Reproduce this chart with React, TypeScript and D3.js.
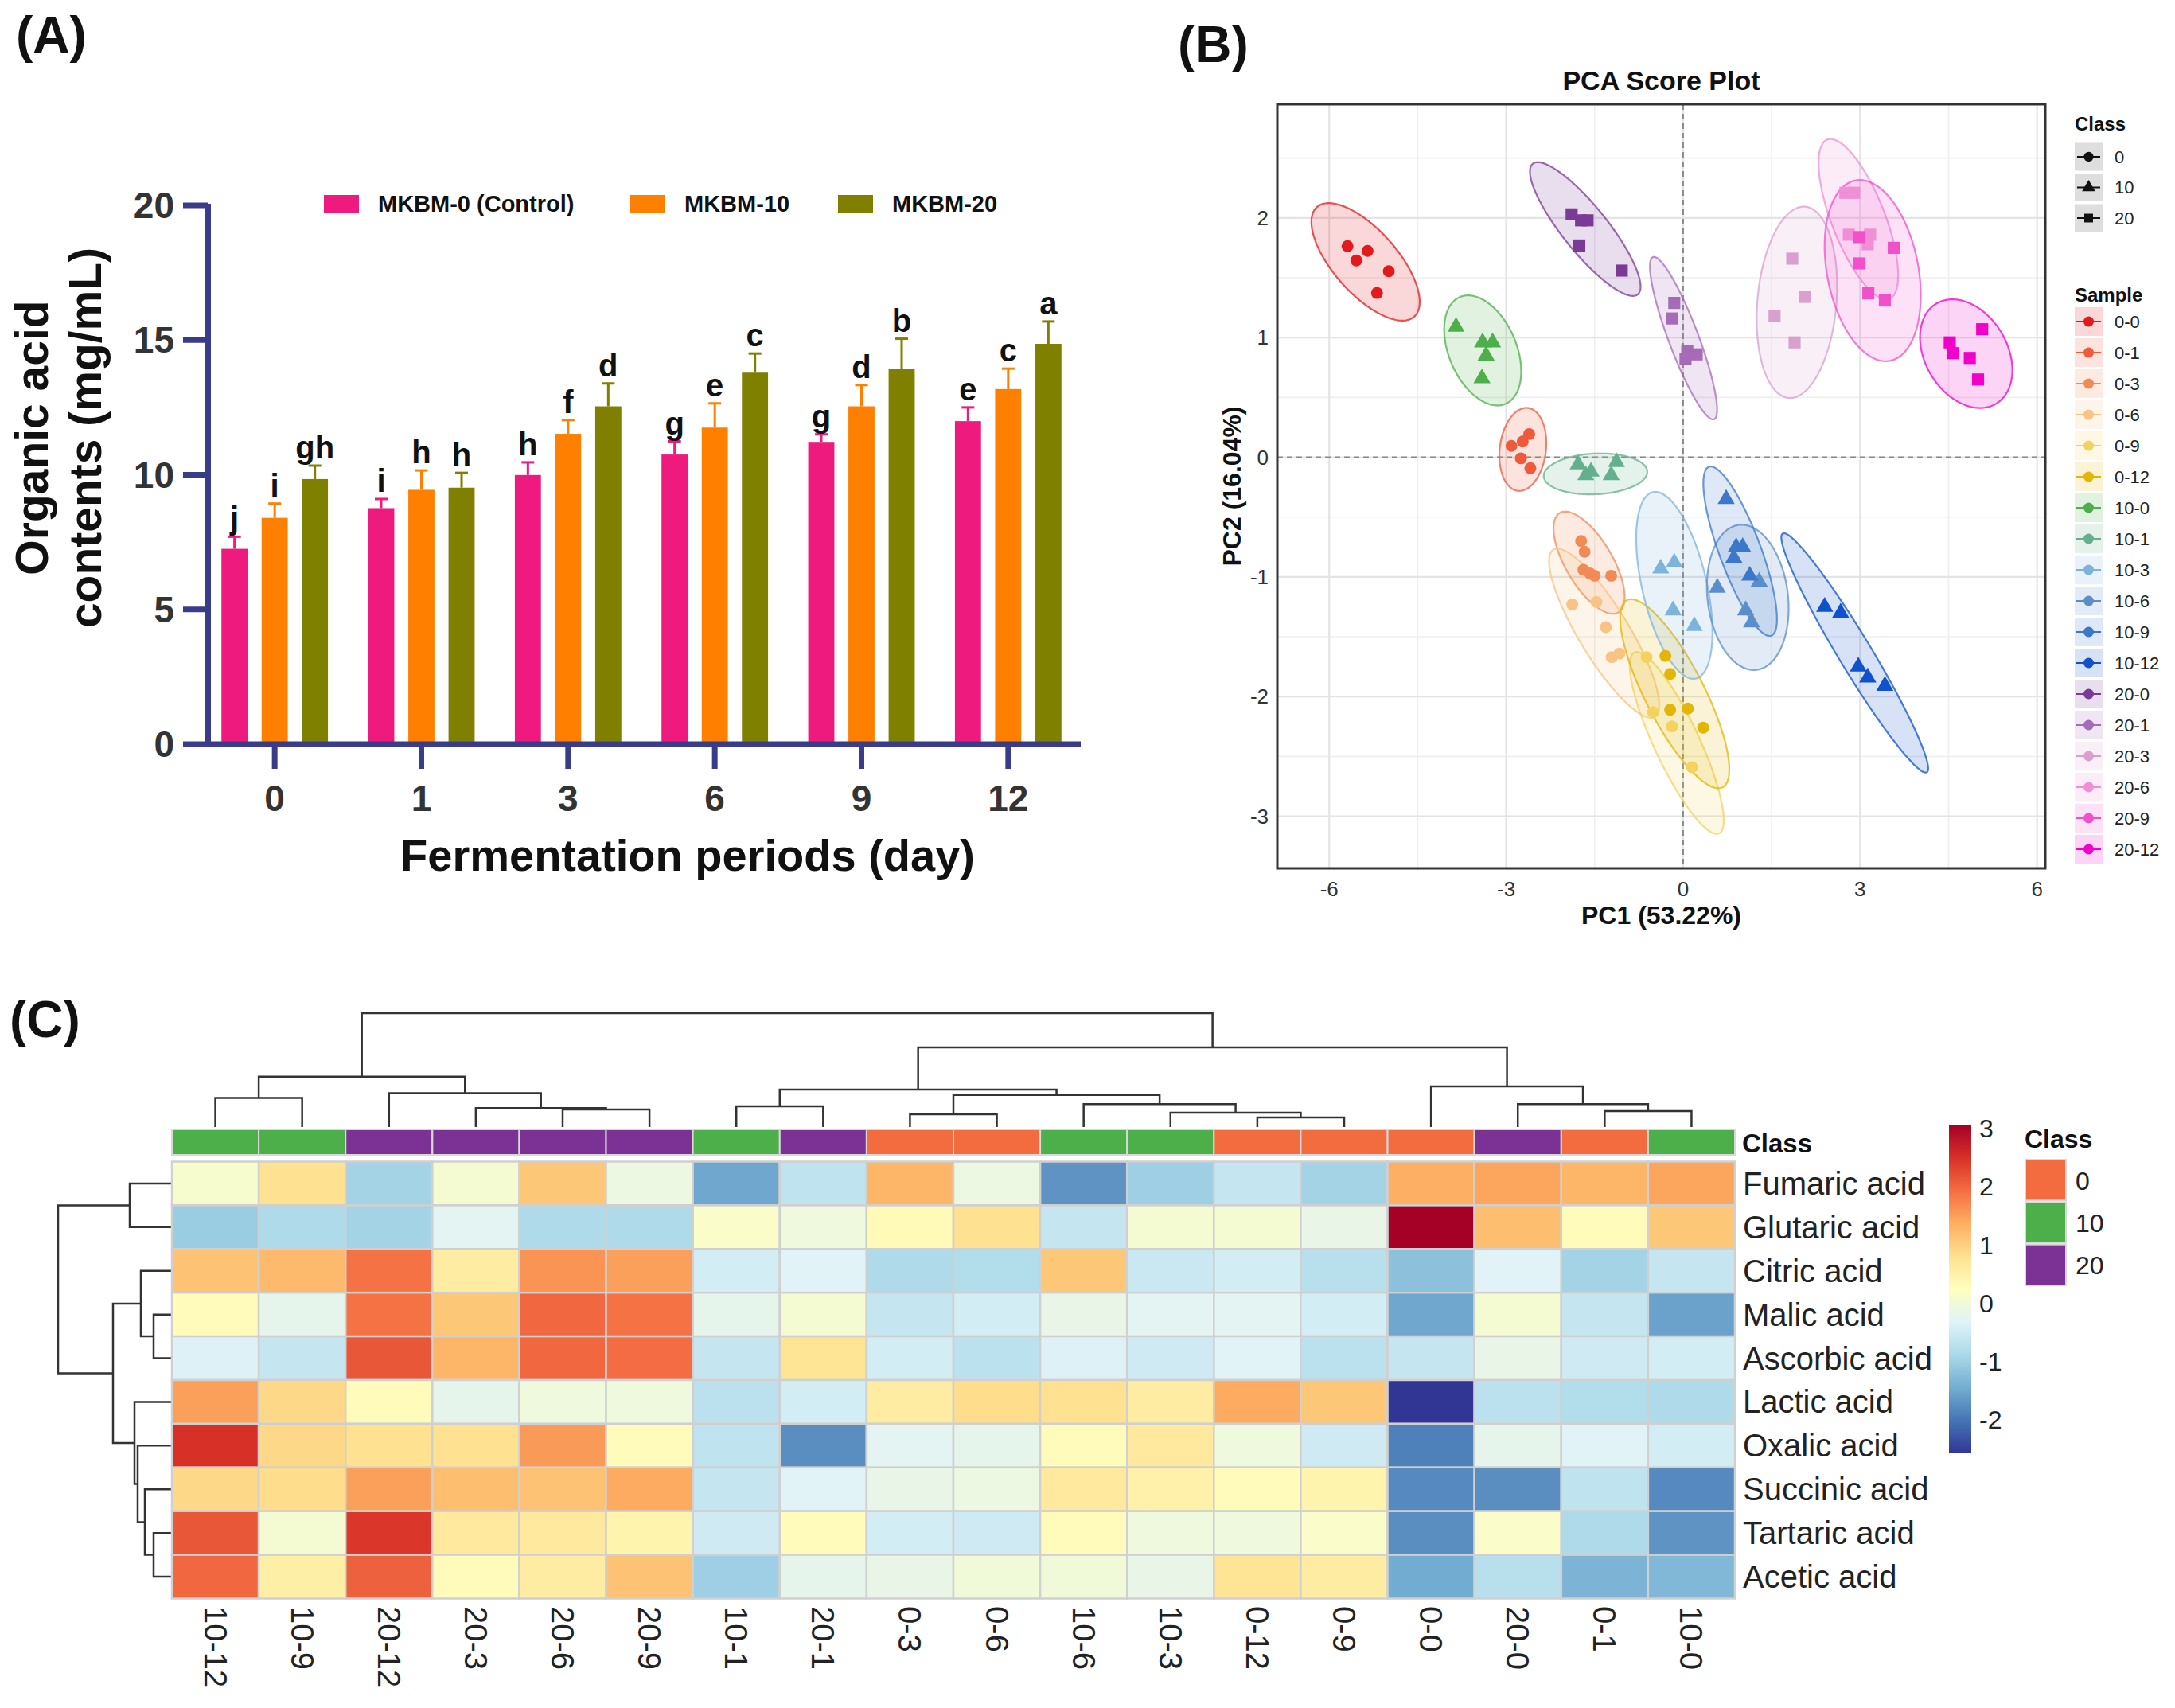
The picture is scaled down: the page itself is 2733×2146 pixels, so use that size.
import React from 'react';
import * as d3 from 'd3';

// ---------- Panel A: organic acid contents ----------
const days = ['0', '1', '3', '6', '9', '12'];
const seriesNames = ['MKBM-0 (Control)', 'MKBM-10', 'MKBM-20'];
const seriesColors = ['#EE1A7E', '#FF7F00', '#808000'];
const meanMKBM0 = [7.25, 8.76, 9.99, 10.75, 11.22, 11.99];
const meanMKBM10 = [8.4, 9.44, 11.52, 11.75, 12.54, 13.18];
const meanMKBM20 = [9.84, 9.52, 12.54, 13.79, 13.94, 14.86];
const sdMKBM0 = [0.45, 0.34, 0.47, 0.49, 0.28, 0.51];
const sdMKBM10 = [0.53, 0.72, 0.51, 0.9, 0.79, 0.76];
const sdMKBM20 = [0.5, 0.55, 0.85, 0.71, 1.11, 0.83];
const letterMKBM0 = ['j', 'i', 'h', 'g', 'g', 'e'];
const letterMKBM10 = ['i', 'h', 'f', 'e', 'd', 'c'];
const letterMKBM20 = ['gh', 'h', 'd', 'c', 'b', 'a'];
const yTicksA = [0, 5, 10, 15, 20];

// ---------- Panel B: PCA scores ----------
const pcaSamples = ['0-0', '0-1', '0-3', '0-6', '0-9', '0-12', '10-0', '10-1', '10-3', '10-6', '10-9', '10-12',
  '20-0', '20-1', '20-3', '20-6', '20-9', '20-12'];
const pcaColors = ['#E31A1C', '#EE5A3A', '#F28A55', '#FAC384', '#F3D35E', '#E3B505', '#4DAF4A', '#63AF8E',
  '#7DB4DB', '#5A8ECA', '#3B77CB', '#0F52CC', '#7B3A96', '#A56BB6', '#D9A0CF', '#F08FD6', '#F24FCB', '#F000C8'];
const pcaClasses = ['0', '10', '20'];
// [sample, PC1, PC2]
const pcaScores: [string, number, number][] = [
  ['0-0', -5.69, 1.765], ['0-0', -5.35, 1.724], ['0-0', -5.54, 1.645], ['0-0', -4.99, 1.555], ['0-0', -5.19, 1.373],
  ['0-1', -2.91, 0.095], ['0-1', -2.72, 0.132], ['0-1', -2.61, 0.194], ['0-1', -2.75, -0.009], ['0-1', -2.59, -0.091],
  ['0-3', -1.73, -0.7], ['0-3', -1.67, -0.79], ['0-3', -1.69, -0.94], ['0-3', -1.58, -0.97], ['0-3', -1.5, -0.99], ['0-3', -1.22, -0.99],
  ['0-6', -1.88, -1.23], ['0-6', -1.47, -1.21], ['0-6', -1.31, -1.42], ['0-6', -1.21, -1.67], ['0-6', -1.08, -1.64],
  ['0-9', -0.62, -1.67], ['0-9', -0.51, -2.13], ['0-9', -0.19, -2.25], ['0-9', 0.15, -2.59],
  ['0-12', -0.3, -1.66], ['0-12', -0.22, -1.81], ['0-12', -0.22, -2.11], ['0-12', 0.08, -2.1], ['0-12', 0.34, -2.26],
  ['10-0', -3.85, 1.09], ['10-0', -3.4, 0.96], ['10-0', -3.23, 0.96], ['10-0', -3.34, 0.85], ['10-0', -3.41, 0.66],
  ['10-1', -1.78, -0.06], ['10-1', -1.65, -0.15], ['10-1', -1.56, -0.12], ['10-1', -1.13, -0.04], ['10-1', -1.22, -0.15],
  ['10-3', -0.38, -0.93], ['10-3', -0.15, -0.88], ['10-3', -0.17, -1.28], ['10-3', 0.19, -1.41],
  ['10-6', 0.58, -1.09], ['10-6', 1.29, -1.04], ['10-6', 1.06, -1.28], ['10-6', 1.16, -1.38],
  ['10-9', 0.73, -0.35], ['10-9', 0.9, -0.75], ['10-9', 1.01, -0.75], ['10-9', 0.86, -0.84], ['10-9', 1.13, -0.99],
  ['10-12', 2.4, -1.25], ['10-12', 2.67, -1.3], ['10-12', 2.97, -1.75], ['10-12', 3.13, -1.84], ['10-12', 3.42, -1.91],
  ['20-0', -1.89, 2.03], ['20-0', -1.73, 1.98], ['20-0', -1.62, 1.98], ['20-0', -1.76, 1.77], ['20-0', -1.04, 1.56],
  ['20-1', -0.15, 1.29], ['20-1', -0.19, 1.16], ['20-1', 0.07, 0.89], ['20-1', 0.23, 0.86], ['20-1', 0.04, 0.82],
  ['20-3', 1.85, 1.66], ['20-3', 2.07, 1.34], ['20-3', 1.55, 1.18], ['20-3', 1.89, 0.96],
  ['20-6', 2.75, 2.21], ['20-6', 2.9, 2.21], ['20-6', 2.81, 1.86], ['20-6', 3.17, 1.86], ['20-6', 3.13, 1.78],
  ['20-9', 2.99, 1.84], ['20-9', 3.57, 1.75], ['20-9', 2.99, 1.62], ['20-9', 3.14, 1.37], ['20-9', 3.42, 1.31],
  ['20-12', 5.07, 1.07], ['20-12', 4.52, 0.96], ['20-12', 4.57, 0.87], ['20-12', 4.86, 0.83], ['20-12', 5.0, 0.65],
];
// confidence ellipses: [sample, centre PC1, centre PC2, half-range PC1, half-range PC2, correlation]
const pcaEllipses: [string, number, number, number, number, number][] = [
  ['0-0', -5.384, 1.633, 0.918, 0.491, -0.68],
  ['0-1', -2.717, 0.066, 0.398, 0.347, 0.15],
  ['0-3', -1.594, -0.881, 0.603, 0.427, -0.67],
  ['0-6', -1.339, -1.47, 0.934, 0.707, -0.85],
  ['0-9', -0.108, -2.387, 0.797, 0.76, -0.85],
  ['0-12', -0.142, -1.976, 0.925, 0.79, -0.8],
  ['10-0', -3.398, 0.893, 0.653, 0.46, -0.38],
  ['10-1', -1.485, -0.139, 0.878, 0.171, 0.1],
  ['10-3', -0.149, -1.07, 0.646, 0.781, -0.5],
  ['10-6', 1.096, -1.171, 0.693, 0.607, -0.15],
  ['10-9', 0.967, -0.785, 0.624, 0.708, -0.8],
  ['10-12', 2.91, -1.635, 1.245, 1.0, -0.965],
  ['20-0', -1.659, 1.907, 0.938, 0.559, -0.86],
  ['20-1', 0.007, 0.995, 0.569, 0.679, -0.88],
  ['20-3', 1.929, 1.295, 0.682, 0.8, 0.17],
  ['20-6', 2.971, 1.99, 0.675, 0.67, -0.7],
  ['20-9', 3.214, 1.56, 0.815, 0.757, -0.27],
  ['20-12', 4.799, 0.866, 0.783, 0.454, -0.3],
];
const pcaXTicks = [-6, -3, 0, 3, 6];
const pcaYTicks = [-3, -2, -1, 0, 1, 2];

// ---------- Panel C: heatmap ----------
const heatCols = ['10-12', '10-9', '20-12', '20-3', '20-6', '20-9', '10-1', '20-1', '0-3', '0-6', '10-6', '10-3',
  '0-12', '0-9', '0-0', '20-0', '0-1', '10-0'];
const heatRows = ['Fumaric acid', 'Glutaric acid', 'Citric acid', 'Malic acid', 'Ascorbic acid', 'Lactic acid',
  'Oxalic acid', 'Succinic acid', 'Tartaric acid', 'Acetic acid'];
const heatValues = [
  [0.1, 0.8, -0.95, 0.05, 1.1, -0.1, -1.5, -0.65, 1.3, -0.1, -1.7, -1.0, -0.6, -0.95, 1.35, 1.45, 1.3, 1.45],
  [-1.05, -0.85, -0.95, -0.25, -0.85, -0.85, 0.15, -0.05, 0.35, 0.8, -0.6, 0.05, 0.05, -0.15, 3.07, 1.2, 0.3, 1.1],
  [1.15, 1.25, 1.9, 0.6, 1.6, 1.5, -0.45, -0.3, -0.85, -0.8, 1.1, -0.55, -0.45, -0.75, -1.2, -0.3, -0.95, -0.6],
  [0.3, -0.2, 1.9, 1.1, 2.0, 1.9, -0.2, 0.05, -0.6, -0.45, -0.15, -0.25, -0.25, -0.45, -1.5, 0.05, -0.6, -1.55],
  [-0.35, -0.6, 2.15, 1.3, 2.0, 1.95, -0.6, 0.75, -0.45, -0.7, -0.35, -0.5, -0.3, -0.7, -0.6, -0.15, -0.5, -0.45],
  [1.5, 0.9, 0.3, -0.2, -0.05, -0.05, -0.7, -0.45, 0.6, 0.85, 0.8, 0.6, 1.4, 1.1, -2.57, -0.7, -0.8, -0.85],
  [2.5, 0.9, 0.8, 0.8, 1.55, 0.3, -0.65, -1.75, -0.25, -0.2, 0.3, 0.65, -0.05, -0.5, -1.9, -0.2, -0.3, -0.45],
  [0.9, 0.85, 1.5, 1.2, 1.15, 1.4, -0.6, -0.3, -0.15, -0.1, 0.65, 0.5, 0.3, 0.45, -1.8, -1.75, -0.65, -1.8],
  [2.15, 0.05, 2.45, 0.65, 0.65, 0.45, -0.5, 0.3, -0.45, -0.5, 0.3, -0.05, -0.05, 0.15, -1.75, 0.15, -0.85, -1.7],
  [2.0, 0.55, 2.05, 0.3, 0.6, 1.15, -1.0, -0.2, -0.15, 0.0, 0.0, -0.15, 0.75, 0.6, -1.45, -0.75, -1.35, -1.3],
];
const heatClassNames = ['0', '10', '20'];
const heatClassColors = ['#F36C40', '#4DAF4A', '#7B3294'];
const colorBarTicks = [3, 2, 1, 0, -1, -2];
// hierarchical clustering trees: [height, left, right]
type Tree = string | [number, Tree, Tree];
const colTree: Tree = [14.33,
  [6.33, [3.67, '10-12', '10-9'], [4.27, '20-12', [2.37, '20-3', [2.2, '20-6', '20-9']]]],
  [10.03,
    [4.7, [2.6, '10-1', '20-1'], [4.03, [1.6, '0-3', '0-6'], [2.87, '10-6', [1.8, '10-3', [1.2, '0-12', '0-9']]]]],
    [5.1, '0-0', [2.87, '20-0', [2.0, '0-1', '10-0']]]]];
const rowTree: Tree = [14.3,
  [5.3, 'Fumaric acid', 'Glutaric acid'],
  [7.4, [3.9, 'Citric acid', [2.3, 'Malic acid', 'Ascorbic acid']],
    [4.7, 'Lactic acid', [4.3, 'Oxalic acid', [3.4, 'Succinic acid', [2.3, 'Tartaric acid', 'Acetic acid']]]]]];

const FONT = "'Liberation Sans', Arial, Helvetica, sans-serif";

function PanelA() {
  const x0 = d3.scaleBand<string>().domain(days).range([253, 1359]);
  const x1 = d3.scaleBand<string>().domain(seriesNames).range([0, x0.bandwidth()]).paddingInner(0.35).paddingOuter(0.5);
  const y = d3.scaleLinear().domain([0, 20]).range([935, 258]);
  const axisColor = '#383C8A';
  const means = [meanMKBM0, meanMKBM10, meanMKBM20];
  const sds = [sdMKBM0, sdMKBM10, sdMKBM20];
  const letters = [letterMKBM0, letterMKBM10, letterMKBM20];
  const legendX = [407, 792, 1053];
  return (
    <g>
      <text x={20} y={66} fontSize={64} fontWeight="bold" fill="#111">(A)</text>
      {seriesNames.map((s, si) =>
        days.map((d, di) => {
          const m = means[si][di];
          const e = sds[si][di];
          const bx = (x0(d) as number) + (x1(s) as number);
          const bw = x1.bandwidth();
          const cx = bx + bw / 2;
          return (
            <g key={s + d}>
              <rect x={bx} y={y(m)} width={bw} height={y(0) - y(m)} fill={seriesColors[si]} />
              <line x1={cx} x2={cx} y1={y(m)} y2={y(m + e)} stroke={seriesColors[si]} strokeWidth={3} />
              <line x1={cx - 8} x2={cx + 8} y1={y(m + e)} y2={y(m + e)} stroke={seriesColors[si]} strokeWidth={3} />
              <text x={cx} y={y(m + e) - 9} textAnchor="middle" fontSize={40} fontWeight="bold" fill="#111">
                {letters[si][di]}
              </text>
            </g>
          );
        })
      )}
      {/* axes */}
      <line x1={261} x2={261} y1={y(20) - 2} y2={y(0) + 3.5} stroke={axisColor} strokeWidth={8} />
      <line x1={257} x2={1358} y1={y(0)} y2={y(0)} stroke={axisColor} strokeWidth={7} />
      {yTicksA.map(t => (
        <g key={t}>
          <line x1={230} x2={261} y1={y(t)} y2={y(t)} stroke={axisColor} strokeWidth={7} />
          <text x={219} y={y(t)} textAnchor="end" dominantBaseline="central" fontSize={46} fontWeight="bold" fill="#333">{t}</text>
        </g>
      ))}
      {days.map(d => {
        const cx = (x0(d) as number) + x0.bandwidth() / 2;
        return (
          <g key={d}>
            <line x1={cx} x2={cx} y1={y(0)} y2={y(0) + 31} stroke={axisColor} strokeWidth={7} />
            <text x={cx} y={1003} textAnchor="middle" dominantBaseline="central" fontSize={46} fontWeight="bold" fill="#333">{d}</text>
          </g>
        );
      })}
      <text x={864} y={1074} textAnchor="middle" dominantBaseline="central" fontSize={56} fontWeight="bold" fill="#111">
        Fermentation periods (day)
      </text>
      <text transform="translate(60,550) rotate(-90)" textAnchor="middle" fontSize={57} fontWeight="bold" fill="#111">Organic acid</text>
      <text transform="translate(127,550) rotate(-90)" textAnchor="middle" fontSize={57} fontWeight="bold" fill="#111">contents (mg/mL)</text>
      {/* legend */}
      {seriesNames.map((s, i) => (
        <g key={s}>
          <rect x={legendX[i]} y={245} width={44} height={22} fill={seriesColors[i]} />
          <text x={legendX[i] + 68} y={256} dominantBaseline="central" fontSize={29} fontWeight="bold" fill="#111">{s}</text>
        </g>
      ))}
    </g>
  );
}

function PanelB() {
  const x = d3.scaleLinear().domain([-6.88, 6.14]).range([1605, 2570]);
  const y = d3.scaleLinear().domain([-3.435, 2.95]).range([1091, 131]);
  const colorOf = (s: string) => pcaColors[pcaSamples.indexOf(s)];
  const shapeOf = (s: string) => {
    const c = s.split('-')[0];
    return c === '0' ? d3.symbolCircle : c === '10' ? d3.symbolTriangle : d3.symbolSquare;
  };
  const sizeOf = (s: string) => {
    const c = s.split('-')[0];
    return c === '0' ? 175 : c === '10' ? 200 : 230;
  };
  const line = d3.line<[number, number]>().curve(d3.curveLinearClosed);
  const ellipsePath = (cx: number, cy: number, sx: number, sy: number, r: number) => {
    const pts = d3.range(0, 2 * Math.PI, Math.PI / 90).map(t => [
      x(cx + sx * Math.cos(t)),
      y(cy + sy * (r * Math.cos(t) + Math.sqrt(1 - r * r) * Math.sin(t))),
    ] as [number, number]);
    return line(pts) as string;
  };
  const minorX = [-4.5, -1.5, 1.5, 4.5];
  const minorY = [-2.5, -1.5, -0.5, 0.5, 1.5, 2.5];
  const [x0, x1] = x.range();
  const [y0, y1] = y.range();
  const legX = 2607;
  const classRowY = d3.scaleLinear().domain([0, 1]).range([197, 235.5]);
  const sampleRowY = d3.scaleLinear().domain([0, 1]).range([404, 443]);
  return (
    <g>
      <text x={1480} y={78} fontSize={64} fontWeight="bold" fill="#111">(B)</text>
      <text x={(x0 + x1) / 2} y={101} textAnchor="middle" dominantBaseline="central" fontSize={34} fontWeight="bold" fill="#111">PCA Score Plot</text>
      <defs>
        <clipPath id="pcaClip"><rect x={x0} y={y1} width={x1 - x0} height={y0 - y1} /></clipPath>
      </defs>
      <rect x={x0} y={y1} width={x1 - x0} height={y0 - y1} fill="#fff" />
      {minorX.map(v => <line key={'mx' + v} x1={x(v)} x2={x(v)} y1={y1} y2={y0} stroke="#EFEFEF" strokeWidth={1.6} />)}
      {minorY.map(v => <line key={'my' + v} x1={x0} x2={x1} y1={y(v)} y2={y(v)} stroke="#EFEFEF" strokeWidth={1.6} />)}
      {pcaXTicks.map(v => <line key={'gx' + v} x1={x(v)} x2={x(v)} y1={y1} y2={y0} stroke="#E4E4E4" strokeWidth={2.2} />)}
      {pcaYTicks.map(v => <line key={'gy' + v} x1={x0} x2={x1} y1={y(v)} y2={y(v)} stroke="#E4E4E4" strokeWidth={2.2} />)}
      <line x1={x(0)} x2={x(0)} y1={y1} y2={y0} stroke="#8A8A8A" strokeWidth={2} strokeDasharray="7 5" />
      <line x1={x0} x2={x1} y1={y(0)} y2={y(0)} stroke="#8A8A8A" strokeWidth={2} strokeDasharray="7 5" />
      <g clipPath="url(#pcaClip)">
        {pcaEllipses.map(([s, cx, cy, sx, sy, r]) => (
          <path key={'e' + s} d={ellipsePath(cx, cy, sx, sy, r)} fill={colorOf(s)} fillOpacity={0.17}
            stroke={colorOf(s)} strokeOpacity={0.75} strokeWidth={2.2} />
        ))}
        {pcaScores.map(([s, px, py], i) => (
          <path key={'p' + i} transform={`translate(${x(px)},${y(py)})`}
            d={d3.symbol().type(shapeOf(s)).size(sizeOf(s))() as string} fill={colorOf(s)} />
        ))}
      </g>
      <rect x={x0} y={y1} width={x1 - x0} height={y0 - y1} fill="none" stroke="#333" strokeWidth={3} />
      {pcaXTicks.map(v => (
        <text key={'tx' + v} x={x(v)} y={1117} textAnchor="middle" dominantBaseline="central" fontSize={26} fill="#333">{v}</text>
      ))}
      {pcaYTicks.map(v => (
        <text key={'ty' + v} x={1594} y={y(v)} textAnchor="end" dominantBaseline="central" fontSize={26} fill="#333">{v}</text>
      ))}
      <text x={(x0 + x1) / 2} y={1150} textAnchor="middle" dominantBaseline="central" fontSize={32} fontWeight="bold" fill="#111">PC1 (53.22%)</text>
      <text transform={`translate(1548,${(y0 + y1) / 2}) rotate(-90)`} textAnchor="middle" dominantBaseline="central" fontSize={32} fontWeight="bold" fill="#111">PC2 (16.04%)</text>
      {/* legends */}
      <text x={legX} y={155} dominantBaseline="central" fontSize={24} fontWeight="bold" fill="#111">Class</text>
      {pcaClasses.map((c, i) => {
        const cy = classRowY(i);
        const sym = c === '0' ? d3.symbolCircle : c === '10' ? d3.symbolTriangle : d3.symbolSquare;
        return (
          <g key={'lc' + c}>
            <rect x={legX} y={cy - 17.5} width={35} height={35} fill="#DEDEDE" />
            <line x1={legX + 3} x2={legX + 32} y1={cy} y2={cy} stroke="#111" strokeWidth={2} />
            <path transform={`translate(${legX + 17.5},${cy})`} d={d3.symbol().type(sym).size(120)() as string} fill="#111" />
            <text x={legX + 50} y={cy} dominantBaseline="central" fontSize={22} fill="#222">{c}</text>
          </g>
        );
      })}
      <text x={legX} y={370} dominantBaseline="central" fontSize={24} fontWeight="bold" fill="#111">Sample</text>
      {pcaSamples.map((s, i) => {
        const cy = sampleRowY(i);
        return (
          <g key={'ls' + s}>
            <rect x={legX} y={cy - 18} width={35} height={36} fill={pcaColors[i]} fillOpacity={0.17} />
            <line x1={legX + 2} x2={legX + 33} y1={cy} y2={cy} stroke={pcaColors[i]} strokeWidth={2} />
            <circle cx={legX + 17.5} cy={cy} r={6.5} fill={pcaColors[i]} />
            <text x={legX + 50} y={cy} dominantBaseline="central" fontSize={22} fill="#222">{s}</text>
          </g>
        );
      })}
    </g>
  );
}

function dendroSegments(tree: Tree, pos: (leaf: string) => number): { paths: string[] } & { p: number; h: number } {
  if (typeof tree === 'string') return { paths: [], p: pos(tree), h: 0 };
  const [h, a, b] = tree;
  const A = dendroSegments(a, pos);
  const B = dendroSegments(b, pos);
  return { paths: [...A.paths, ...B.paths, JSON.stringify([A.p, A.h, B.p, B.h, h])], p: (A.p + B.p) / 2, h };
}

function PanelC() {
  const xb = d3.scaleBand<string>().domain(heatCols).range([216, 2180]);
  const yb = d3.scaleBand<string>().domain(heatRows).range([1459.5, 2008.5]);
  const flat = heatValues.flat();
  const vmin = d3.min(flat) as number;
  const vmax = d3.max(flat) as number;
  const palette = d3.schemeRdYlBu[11].slice().reverse();
  const color = d3.scaleLinear<string>()
    .domain(d3.range(11).map(i => vmin + (i / 10) * (vmax - vmin)))
    .range(palette)
    .interpolate(d3.interpolateRgb);
  const classColor = (c: string) => heatClassColors[heatClassNames.indexOf(c.split('-')[0])];
  // dendrogram height scales
  const colH = d3.scaleLinear().domain([0, 14.33]).range([1416, 1273]);
  const rowH = d3.scaleLinear().domain([0, 14.3]).range([216, 73]);
  const colSeg = dendroSegments(colTree, l => (xb(l) as number) + xb.bandwidth() / 2).paths.map(s => JSON.parse(s));
  const rowSeg = dendroSegments(rowTree, l => (yb(l) as number) + yb.bandwidth() / 2).paths.map(s => JSON.parse(s));
  const barY = d3.scaleLinear().domain([vmin, vmax]).range([1826, 1413]);
  const classBox = d3.scaleBand<string>().domain(heatClassNames).range([1457, 1617]);
  return (
    <g>
      <text x={12} y={1303} fontSize={64} fontWeight="bold" fill="#111">(C)</text>
      {/* column dendrogram */}
      {colSeg.map(([pa, ha, pb, hb, h], i) => (
        <path key={'cd' + i} d={`M${pa},${colH(ha)}V${colH(h)}H${pb}V${colH(hb)}`} fill="none" stroke="#333" strokeWidth={2.5} />
      ))}
      {/* row dendrogram */}
      {rowSeg.map(([pa, ha, pb, hb, h], i) => (
        <path key={'rd' + i} d={`M${rowH(ha)},${pa}H${rowH(h)}V${pb}H${rowH(hb)}`} fill="none" stroke="#333" strokeWidth={2.5} />
      ))}
      {/* class annotation bar */}
      {heatCols.map(c => (
        <rect key={'cb' + c} x={xb(c)} y={1419} width={xb.bandwidth()} height={32} fill={classColor(c)} stroke="#D8D8D8" strokeWidth={2} />
      ))}
      <text x={2189} y={1436} dominantBaseline="central" fontSize={33} fontWeight="bold" fill="#111">Class</text>
      {/* cells */}
      {heatRows.map((r, ri) => heatCols.map((c, ci) => (
        <rect key={r + c} x={xb(c)} y={yb(r)} width={xb.bandwidth()} height={yb.bandwidth()}
          fill={color(heatValues[ri][ci])} stroke="#D0D0D0" strokeWidth={2.5} />
      )))}
      {heatRows.map(r => (
        <text key={'rl' + r} x={2190} y={(yb(r) as number) + yb.bandwidth() / 2} dominantBaseline="central" fontSize={40} fill="#222">{r}</text>
      ))}
      {heatCols.map(c => (
        <text key={'cl' + c} transform={`translate(${(xb(c) as number) + xb.bandwidth() / 2},2018) rotate(90)`}
          dominantBaseline="central" fontSize={40} fill="#222">{c}</text>
      ))}
      {/* colour key */}
      <defs>
        <linearGradient id="heatGrad" x1="0" y1="1" x2="0" y2="0">
          {palette.map((p, i) => <stop key={i} offset={`${i * 10}%`} stopColor={p} />)}
        </linearGradient>
      </defs>
      <rect x={2449} y={barY(vmax)} width={28} height={barY(vmin) - barY(vmax)} fill="url(#heatGrad)" />
      {colorBarTicks.map(t => (
        <text key={'cbt' + t} x={2487} y={barY(t)} dominantBaseline="central" fontSize={32} fill="#222">{t}</text>
      ))}
      {/* class key */}
      <text x={2544} y={1431} dominantBaseline="central" fontSize={32} fontWeight="bold" fill="#111">Class</text>
      {heatClassNames.map((c, i) => (
        <g key={'ck' + c}>
          <rect x={2545} y={classBox(c)} width={51} height={classBox.bandwidth() - 2} fill={heatClassColors[i]} stroke="#D8D8D8" strokeWidth={2} />
          <text x={2608} y={(classBox(c) as number) + classBox.bandwidth() / 2} dominantBaseline="central" fontSize={32} fill="#222">{c}</text>
        </g>
      ))}
    </g>
  );
}

export default function App() {
  return (
    <svg width={2733} height={2146} style={{ position: 'absolute', left: 0, top: 0, background: '#fff' }} fontFamily={FONT}>
      <rect width={2733} height={2146} fill="#fff" />
      <PanelA />
      <PanelB />
      <PanelC />
    </svg>
  );
}
